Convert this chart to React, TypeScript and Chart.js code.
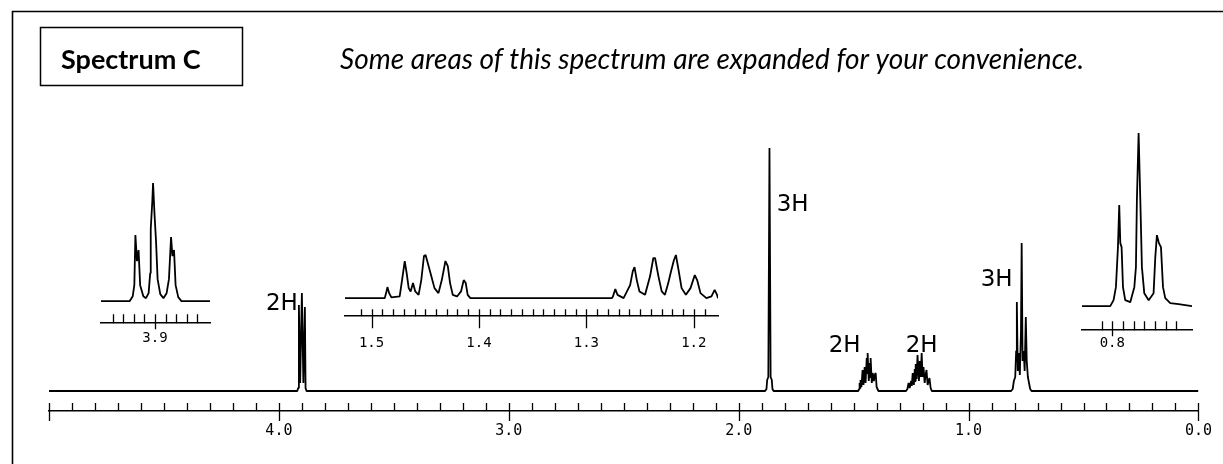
import React, { useEffect, useRef } from 'react';
import { Chart, registerables } from 'chart.js';

Chart.register(...registerables);

// ---------- DATA (ppm, intensity) ----------
// Full spectrum, multiplet by multiplet
const baselineStart = [[5.0, 0]];
const tripletOCH2 = [[3.92, 0], [3.916, 3], [3.913, 86], [3.9075, 8], [3.9, 98], [3.8935, 8], [3.887, 84], [3.884, 3], [3.88, 0]];
const singletCH3 = [[1.885, 0], [1.879, 2], [1.876, 11], [1.871, 14], [1.866, 243], [1.861, 14], [1.856, 11], [1.853, 2], [1.848, 0]];
const multiplet145 = [[1.48, 0], [1.476, 2], [1.474, 8], [1.472, 3], [1.47, 11], [1.466, 4], [1.461, 21], [1.457, 6], [1.452, 24], [1.448, 8], [1.443, 33], [1.441, 18], [1.439, 38], [1.434, 10], [1.43, 28], [1.428, 14], [1.426, 33], [1.421, 8], [1.417, 18], [1.412, 10], [1.408, 16], [1.404, 18], [1.4, 4], [1.396, 2], [1.392, 0]];
const multiplet122 = [[1.272, 0], [1.266, 2], [1.261, 8], [1.256, 3], [1.25, 10], [1.247, 5], [1.243, 18], [1.238, 6], [1.234, 22], [1.232, 10], [1.23, 27], [1.226, 12], [1.222, 36], [1.216, 10], [1.212, 30], [1.208, 14], [1.204, 38], [1.2, 14], [1.196, 24], [1.191, 8], [1.187, 16], [1.183, 21], [1.178, 6], [1.174, 10], [1.17, 13], [1.165, 3], [1.16, 0]];
const triplet077 = [[0.815, 0], [0.808, 2], [0.803, 10], [0.797, 14], [0.793, 40], [0.79, 89], [0.786, 20], [0.781, 38], [0.777, 16], [0.772, 60], [0.769, 148], [0.765, 30], [0.76, 40], [0.756, 20], [0.751, 74], [0.747, 30], [0.742, 14], [0.737, 8], [0.732, 2], [0.726, 0]];
const baselineEnd = [[0.0, 0]];
const mainTickLabels = ['4.0', '3.0', '2.0', '1.0', '0.0'];

// Expansion around 3.9 ppm
const inset39 = [[3.951, 0], [3.924, 0], [3.921, 5], [3.9195, 16], [3.9185, 66], [3.917, 40], [3.9155, 51], [3.914, 16], [3.911, 5], [3.9085, 3], [3.906, 8], [3.9045, 28], [3.904, 72], [3.9025, 100], [3.9018, 118], [3.9005, 88], [3.899, 60], [3.8975, 22], [3.895, 7], [3.892, 3], [3.889, 8], [3.8868, 22], [3.8848, 64], [3.8835, 45], [3.882, 51], [3.8805, 16], [3.878, 4], [3.875, 0], [3.848, 0]];
const inset39TickLabels = ['3.9'];

// Expansion 1.52 - 1.18 ppm
const inset13Left = [[1.5247, 0], [1.4877, 0], [1.4861, 6.7], [1.4852, 11], [1.4836, 5], [1.4815, 0.7], [1.4738, 1.7], [1.4716, 18], [1.4691, 37], [1.4673, 25], [1.4654, 10], [1.4636, 6.7], [1.4614, 15], [1.4593, 6.7], [1.4562, 3.3], [1.4537, 18], [1.4512, 42], [1.4497, 43], [1.4469, 32], [1.4444, 22], [1.4414, 10], [1.4377, 5], [1.4346, 18], [1.4312, 37], [1.429, 32], [1.4269, 15], [1.4244, 3.3], [1.4204, 1.7], [1.4167, 6.7], [1.4142, 18], [1.4123, 15], [1.4105, 3.3], [1.408, 0]];
const inset13Right = [[1.2762, 0], [1.2753, 1.7], [1.2731, 9], [1.271, 3.3], [1.2654, 0], [1.2593, 13], [1.2568, 27], [1.2552, 31], [1.2531, 18], [1.2506, 6.7], [1.2454, 3.3], [1.2407, 22], [1.2377, 40], [1.2361, 40], [1.233, 22], [1.2299, 6.7], [1.2269, 3.3], [1.2238, 15], [1.2216, 25], [1.2185, 38], [1.2167, 43], [1.2142, 28], [1.2114, 10], [1.2074, 3.3], [1.2031, 10], [1.1991, 23], [1.1969, 18], [1.1938, 5], [1.1883, 0], [1.1836, 1.7], [1.1806, 8.3], [1.1784, 3.3], [1.1775, 0]];
const inset13TickLabels = ['1.5', '1.4', '1.3', '1.2'];

// Expansion around 0.8 ppm
const inset08 = [[0.8283, 0], [0.8019, 0], [0.7988, 6], [0.7966, 19], [0.7947, 59], [0.7935, 101], [0.7925, 63], [0.7913, 59], [0.79, 19], [0.7879, 6], [0.7832, 4], [0.7794, 19], [0.7779, 39], [0.777, 106], [0.7754, 173], [0.7738, 106], [0.7723, 39], [0.7701, 13], [0.766, 6], [0.7614, 13], [0.7598, 49], [0.7583, 71], [0.7564, 63], [0.7545, 59], [0.7526, 19], [0.7505, 8], [0.7458, 3], [0.738, 2], [0.7255, 0]];
const inset08TickLabels = ['0.8'];

// Integration labels
const integrationTexts = ['2H', '3H', '2H', '2H', '3H'];
const integrationPpm = [3.987, 1.765, 1.539, 1.204, 0.878];
const integrationLevel = [81, 180, 39, 39, 105];

// ---------- PLUGINS ----------
const tickMarksPlugin = {
  id: 'tickMarks',
  afterDraw(chart: any, _a: any, opts: any) {
    const xs = chart.scales.x;
    const { ctx, chartArea } = chart;
    const y0 = chartArea.bottom;
    ctx.save();
    ctx.strokeStyle = '#000';
    ctx.lineWidth = opts.width || 1.3;
    ctx.beginPath();
    for (const t of xs.ticks) {
      const v = t.value;
      const n = v / opts.step;
      if (Math.abs(n - Math.round(n)) > 1e-4) continue;
      const m = v / opts.major;
      const isMajor = Math.abs(m - Math.round(m)) < 1e-4;
      const px = Math.round(xs.getPixelForValue(v)) + 0.5;
      ctx.moveTo(px, y0 - (isMajor ? opts.majorUp : opts.up));
      ctx.lineTo(px, y0 + (isMajor ? opts.majorDown : 0));
    }
    ctx.stroke();
    ctx.restore();
  },
};

const decorPlugin = {
  id: 'decor',
  afterDraw(chart: any) {
    const { ctx } = chart;
    const xs = chart.scales.x;
    const ys = chart.scales.y;
    ctx.save();
    ctx.strokeStyle = '#000';
    ctx.lineWidth = 1.6;
    ctx.beginPath();
    ctx.moveTo(12.5, 464);
    ctx.lineTo(12.5, 11.5);
    ctx.lineTo(1223, 11.5);
    ctx.stroke();
    ctx.lineWidth = 1.5;
    ctx.strokeRect(40.5, 27.5, 202, 58);
    ctx.fillStyle = '#000';
    ctx.textBaseline = 'alphabetic';
    ctx.textAlign = 'left';
    ctx.font = 'bold 27px Lato';
    ctx.fillText('Spectrum C', 61, 69);
    ctx.font = 'italic 28px Lato';
    ctx.fillText('Some areas of this spectrum are expanded for your convenience.', 340, 69);
    ctx.font = '23px "DejaVu Sans"';
    ctx.textAlign = 'center';
    integrationTexts.forEach((t, i) => {
      ctx.fillText(t, xs.getPixelForValue(integrationPpm[i]), ys.getPixelForValue(integrationLevel[i]));
    });
    ctx.restore();
  },
};

// ---------- CHART FACTORY ----------
function makeSpectrum(canvas: HTMLCanvasElement, points: number[][], cfg: any, extraPlugins: any[] = []) {
  const data = points.map((p) => ({ x: p[0], y: p[1] }));
  return new Chart(canvas, {
    type: 'line',
    data: {
      datasets: [
        {
          data,
          borderColor: '#000',
          borderWidth: cfg.lineWidth,
          borderJoinStyle: 'bevel',
          pointRadius: 0,
          tension: 0,
          fill: false,
        },
      ],
    },
    options: {
      animation: false,
      responsive: false,
      devicePixelRatio: 1,
      events: [],
      layout: { padding: cfg.padding },
      plugins: {
        legend: { display: false },
        tooltip: { enabled: false },
        tickMarks: cfg.ticks,
      },
      scales: {
        x: {
          type: 'linear',
          reverse: true,
          min: cfg.xMin,
          max: cfg.xMax,
          grid: { display: false, drawTicks: false },
          border: { display: true, color: '#000', width: 1.5 },
          ticks: {
            stepSize: cfg.ticks.step,
            maxTicksLimit: 1000,
            autoSkip: false,
            maxRotation: 0,
            minRotation: 0,
            padding: cfg.labelPad,
            color: '#000',
            font: { family: '"DejaVu Sans Mono"', size: cfg.fontSize },
            callback: (value: any) => {
              const v = Number(value);
              if (Math.abs(v * 10 - Math.round(v * 10)) > 1e-4) return '';
              const s = (Math.round(v * 10) / 10).toFixed(1);
              return cfg.tickLabels.includes(s) ? s : '';
            },
          },
        },
        y: { display: false, min: cfg.yMin, max: cfg.yMax },
      },
    } as any,
    plugins: [tickMarksPlugin, ...extraPlugins],
  });
}

function insetRect(area: any, labelPad: number, fontSize: number) {
  const padX = 20;
  const padTop = 4;
  const padBottom = 2;
  const axisH = 2 * labelPad + fontSize * 1.2;
  return {
    left: area.left - padX,
    top: area.top - padTop,
    width: area.right - area.left + 2 * padX,
    height: area.bottom - area.top + padTop + axisH + padBottom,
    padding: { left: padX, right: padX, top: padTop, bottom: padBottom },
  };
}

const insetSpecs = [
  {
    points: inset39,
    area: { left: 101, top: 175, right: 210, bottom: 323 },
    xMin: 3.848, xMax: 3.951, yMin: -22, yMax: 126,
    labelPad: 7, fontSize: 14, tickLabels: inset39TickLabels,
    ticks: { step: 0.01, major: 0.1, up: 9, majorUp: 9, majorDown: 6 },
  },
  {
    points: [...inset13Left, ...inset13Right],
    area: { left: 345, top: 248, right: 718, bottom: 316 },
    xMin: 1.1775, xMax: 1.5247, yMin: -18, yMax: 50,
    labelPad: 19, fontSize: 14, tickLabels: inset13TickLabels,
    ticks: { step: 0.01, major: 0.1, up: 7, majorUp: 7, majorDown: 12 },
  },
  {
    points: inset08,
    area: { left: 1082, top: 125, right: 1192, bottom: 330 },
    xMin: 0.7255, xMax: 0.8283, yMin: -24, yMax: 181,
    labelPad: 5, fontSize: 14, tickLabels: inset08TickLabels,
    ticks: { step: 0.01, major: 0.1, up: 9, majorUp: 9, majorDown: 6 },
  },
];

export default function App() {
  const mainRef = useRef<HTMLCanvasElement>(null);
  const insetRefs = [useRef<HTMLCanvasElement>(null), useRef<HTMLCanvasElement>(null), useRef<HTMLCanvasElement>(null)];

  useEffect(() => {
    const charts: any[] = [];
    const mainPoints = [...baselineStart, ...tripletOCH2, ...singletCH3, ...multiplet145, ...multiplet122, ...triplet077, ...baselineEnd];
    if (mainRef.current) {
      charts.push(
        makeSpectrum(
          mainRef.current,
          mainPoints,
          {
            lineWidth: 1.8,
            padding: { left: 49, right: 23, top: 140, bottom: 13 },
            xMin: 0, xMax: 5, yMin: -20, yMax: 251,
            labelPad: 11, fontSize: 15, tickLabels: mainTickLabels,
            ticks: { step: 0.1, major: 1, up: 8, majorUp: 8, majorDown: 10 },
          },
          [decorPlugin]
        )
      );
    }
    insetSpecs.forEach((s, i) => {
      const c = insetRefs[i].current;
      if (!c) return;
      const r = insetRect(s.area, s.labelPad, s.fontSize);
      charts.push(
        makeSpectrum(c, s.points, {
          lineWidth: 1.8,
          padding: r.padding,
          xMin: s.xMin, xMax: s.xMax, yMin: s.yMin, yMax: s.yMax,
          labelPad: s.labelPad, fontSize: s.fontSize, tickLabels: s.tickLabels,
          ticks: s.ticks,
        })
      );
    });
    return () => charts.forEach((c) => c.destroy());
  }, []);

  return (
    <div style={{ position: 'absolute', left: 0, top: 0, width: 1223, height: 464, background: '#fff', overflow: 'hidden' }}>
      <canvas ref={mainRef} width={1223} height={464} style={{ position: 'absolute', left: 0, top: 0, width: 1223, height: 464 }} />
      {insetSpecs.map((s, i) => {
        const r = insetRect(s.area, s.labelPad, s.fontSize);
        return (
          <canvas
            key={i}
            ref={insetRefs[i]}
            width={Math.round(r.width)}
            height={Math.round(r.height)}
            style={{ position: 'absolute', left: r.left, top: r.top, width: Math.round(r.width), height: Math.round(r.height) }}
          />
        );
      })}
    </div>
  );
}
